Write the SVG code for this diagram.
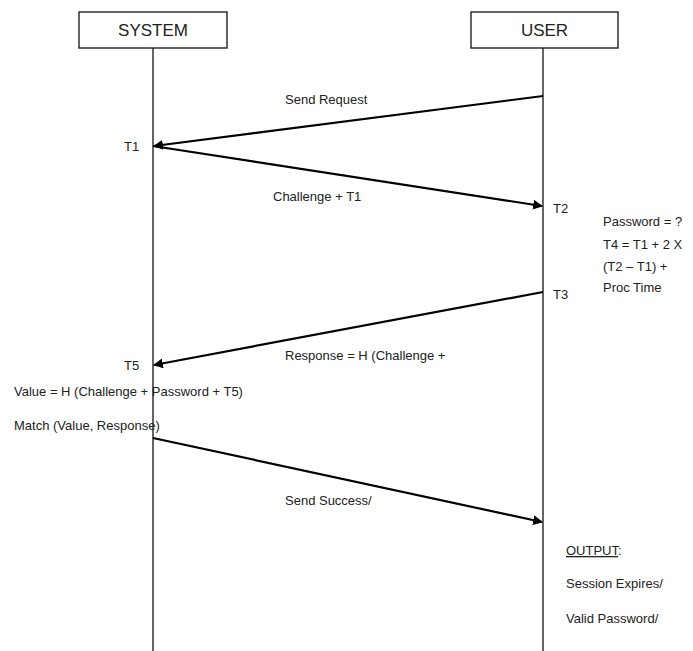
<svg xmlns="http://www.w3.org/2000/svg" width="693" height="651" viewBox="0 0 693 651">
<style>
.box{fill:#fff;stroke:#222;stroke-width:1.4}
.life{stroke:#111;stroke-width:1.3;fill:none}
.msg{stroke:#000;stroke-width:2.2;fill:none;marker-end:url(#ah)}
.t{font-family:"Liberation Sans",Arial,sans-serif;font-size:13px;fill:#222}
.h{font-family:"Liberation Sans",Arial,sans-serif;font-size:17px;fill:#222;text-anchor:middle}
</style>
<defs>
<marker id="ah" viewBox="0 0 10 10" refX="9" refY="5" markerWidth="4.5" markerHeight="4.5" orient="auto" markerUnits="strokeWidth">
<path d="M0,0 L10,5 L0,10 z" fill="#000"/>
</marker>
</defs>
<rect width="693" height="651" fill="#fff"/>
<g id="system">
<line class="life" x1="153" y1="48" x2="153" y2="651"/>
<rect class="box" x="79" y="12" width="148" height="36"/>
<text class="h" x="153" y="36">SYSTEM</text>
</g>
<g id="user">
<line class="life" x1="543" y1="48" x2="543" y2="651"/>
<rect class="box" x="471" y="12" width="147" height="36"/>
<text class="h" x="544.5" y="36">USER</text>
</g>
<g id="connectors">
<line class="msg" x1="543" y1="96" x2="154" y2="146"/>
<line class="msg" x1="153" y1="146" x2="542" y2="206"/>
<line class="msg" x1="543" y1="292" x2="154" y2="365"/>
<line class="msg" x1="153" y1="438" x2="542" y2="522"/>
</g>
<g id="labels">
<text class="t" x="285" y="104">Send Request</text>
<text class="t" x="124" y="151">T1</text>
<text class="t" x="273" y="201">Challenge + T1</text>
<text class="t" x="553" y="213">T2</text>
<text class="t" x="603" y="226">Password = ?</text>
<text class="t" x="603" y="249">T4 = T1 + 2 X</text>
<text class="t" x="603" y="271">(T2 – T1) +</text>
<text class="t" x="603" y="292">Proc Time</text>
<text class="t" x="553" y="299">T3</text>
<text class="t" x="285" y="360">Response = H (Challenge +</text>
<text class="t" x="124" y="370">T5</text>
<text class="t" x="14" y="396">Value = H (Challenge + Password + T5)</text>
<text class="t" x="14" y="430">Match (Value, Response)</text>
<text class="t" x="285" y="505">Send Success/</text>
<text class="t" x="566" y="555"><tspan text-decoration="underline">OUTPUT</tspan>:</text>
<text class="t" x="566" y="588">Session Expires/</text>
<text class="t" x="566" y="623">Valid Password/</text>
</g>
</svg>
